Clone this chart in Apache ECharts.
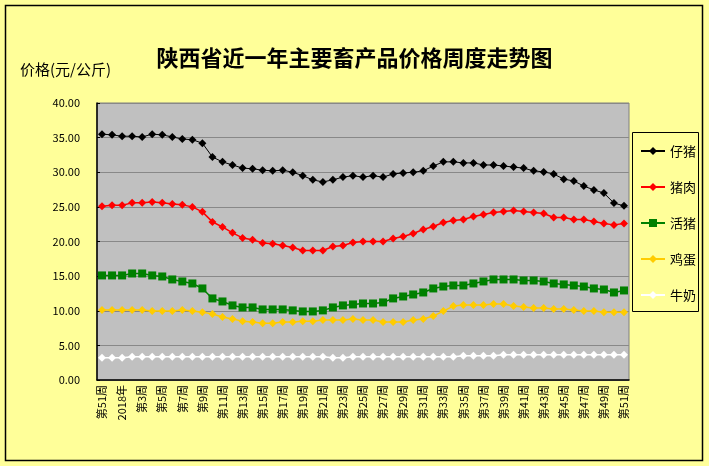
<!DOCTYPE html>
<html>
<head>
<meta charset="utf-8">
<script src="https://cdn.jsdelivr.net/npm/echarts@6/dist/echarts.min.js"></script>
<style>
  html, body { margin: 0; padding: 0; background: #FFFF99; }
  #chart { width: 709px; height: 466px; }
</style>
</head>
<body>
<div id="chart"></div>
<script>
// 周次: 2017年第51周 ~ 2018年第51周
var weeks = ['第51周', '第52周', '2018年'];
for (var w = 2; w <= 51; w++) weeks.push('第' + w + '周');

var piglet = [35.5, 35.4, 35.2, 35.2, 35.1, 35.5, 35.4, 35.1, 34.8, 34.7, 34.2, 32.2, 31.5, 31.05, 30.6, 30.5, 30.3, 30.2, 30.3,
  30.0, 29.5, 28.9, 28.6, 28.9, 29.3, 29.5, 29.3, 29.5, 29.3, 29.75, 29.9, 30.0, 30.2, 30.9, 31.5, 31.5, 31.35, 31.35,
  31.05, 31.05, 30.9, 30.75, 30.6, 30.2, 30.05, 29.75, 29.0, 28.75, 28.0, 27.45, 27.0, 25.55, 25.15];
var pork = [25.1, 25.24, 25.24, 25.58, 25.58, 25.72, 25.58, 25.43, 25.29, 25.0, 24.28, 22.83, 22.1, 21.25, 20.52, 20.24, 19.8, 19.66, 19.42,
  19.13, 18.7, 18.7, 18.7, 19.27, 19.42, 19.85, 20.0, 20.0, 20.0, 20.43, 20.72, 21.15, 21.73, 22.16, 22.74, 23.03, 23.17, 23.6,
  23.9, 24.18, 24.33, 24.47, 24.33, 24.18, 24.04, 23.46, 23.46, 23.17, 23.17, 22.88, 22.6, 22.4, 22.6];
var livePig = [15.1, 15.1, 15.1, 15.38, 15.38, 15.1, 14.95, 14.52, 14.23, 13.94, 13.22, 11.78, 11.34, 10.77, 10.48, 10.48, 10.19, 10.19, 10.19,
  10.05, 9.9, 9.9, 10.05, 10.48, 10.77, 10.91, 11.05, 11.05, 11.2, 11.78, 12.06, 12.35, 12.64, 13.22, 13.5, 13.65, 13.65, 13.94,
  14.23, 14.52, 14.52, 14.52, 14.37, 14.37, 14.23, 13.94, 13.8, 13.65, 13.5, 13.22, 13.07, 12.64, 12.93];
var eggs = [10.1, 10.1, 10.1, 10.1, 10.1, 9.95, 9.95, 9.95, 10.1, 9.95, 9.8, 9.52, 9.09, 8.8, 8.5, 8.36, 8.2, 8.2, 8.36,
  8.36, 8.5, 8.5, 8.65, 8.65, 8.65, 8.8, 8.65, 8.65, 8.36, 8.36, 8.36, 8.65, 8.8, 9.23, 9.95, 10.67, 10.82, 10.82,
  10.82, 10.96, 10.96, 10.67, 10.53, 10.38, 10.38, 10.24, 10.24, 10.1, 9.95, 9.95, 9.8, 9.8, 9.8];
var milk = [3.22, 3.22, 3.22, 3.36, 3.36, 3.36, 3.36, 3.36, 3.36, 3.36, 3.36, 3.36, 3.36, 3.36, 3.36, 3.36, 3.36, 3.36, 3.36,
  3.36, 3.36, 3.36, 3.36, 3.22, 3.22, 3.36, 3.36, 3.36, 3.36, 3.36, 3.36, 3.36, 3.36, 3.36, 3.36, 3.36, 3.5, 3.5,
  3.5, 3.5, 3.65, 3.65, 3.65, 3.65, 3.65, 3.65, 3.65, 3.65, 3.65, 3.65, 3.65, 3.65, 3.65];

var seriesNames = ['仔猪', '猪肉', '活猪', '鸡蛋', '牛奶'];
var seriesColors = ['#000000', '#FF0000', '#008000', '#FFCC00', '#FFFFFF'];
var seriesSymbols = ['diamond', 'diamond', 'rect', 'diamond', 'diamond'];
var seriesData = [piglet, pork, livePig, eggs, milk];

var font = '"Noto Sans CJK SC", sans-serif';

var chart = echarts.init(document.getElementById('chart'));
chart.setOption({
  backgroundColor: '#FFFF99',
  animation: false,
  textStyle: { fontFamily: font },
  title: {
    text: '陕西省近一年主要畜产品价格周度走势图',
    left: 'center',
    top: 42,
    textStyle: { fontSize: 22, fontWeight: 'bold', color: '#000', fontFamily: font }
  },
  graphic: [
    {
      type: 'rect',
      shape: { x: 5.5, y: 5.5, width: 697, height: 455 },
      style: { fill: 'none', stroke: '#000', lineWidth: 1.5 },
      z: 10
    },
    {
      type: 'rect',
      shape: { x: 632.5, y: 132.5, width: 66, height: 179 },
      style: { fill: 'none', stroke: '#000', lineWidth: 1 },
      z: 10
    },
    {
      type: 'text',
      left: 20,
      top: 62,
      style: { text: '价格(元/公斤)', fontSize: 15, fill: '#000', fontFamily: font }
    }
  ],
  legend: {
    orient: 'vertical',
    left: 635,
    top: 141,
    padding: [0, 0, 0, 5],
    itemWidth: 24,
    itemHeight: 10,
    itemGap: 16,
    textStyle: { fontSize: 13, color: '#000', fontFamily: font, lineHeight: 20 },
    data: seriesNames
  },
  grid: {
    left: 97,
    top: 103,
    right: 80,
    bottom: 86,
    show: true,
    backgroundColor: '#C0C0C0',
    borderColor: '#808080',
    borderWidth: 1
  },
  xAxis: {
    type: 'category',
    data: weeks,
    boundaryGap: true,
    axisLine: { lineStyle: { color: '#000', width: 1.5 } },
    axisTick: { inside: true, length: 3, interval: 0, lineStyle: { color: '#000' } },
    axisLabel: { interval: 1, rotate: 90, fontSize: 11, color: '#000', margin: 5, fontFamily: font },
    splitLine: { show: false }
  },
  yAxis: {
    type: 'value',
    min: 0,
    max: 40,
    interval: 5,
    axisLine: { show: true, lineStyle: { color: '#000', width: 1.5 } },
    axisTick: { show: true, inside: true, length: 3, lineStyle: { color: '#000' } },
    axisLabel: {
      fontSize: 11, color: '#000', margin: 17, fontFamily: font,
      formatter: function (v) { return v.toFixed(2); }
    },
    splitLine: { lineStyle: { color: '#888888', width: 1 } }
  },
  series: seriesNames.map(function (name, i) {
    return {
      name: name,
      type: 'line',
      data: seriesData[i],
      symbol: seriesSymbols[i],
      symbolSize: seriesSymbols[i] === 'rect' ? 8 : 8,
      showAllSymbol: true,
      color: seriesColors[i],
      lineStyle: { color: seriesColors[i], width: i === 0 ? 1 : 1.5 },
      itemStyle: { color: seriesColors[i] }
    };
  })
});
</script>
</body>
</html>
